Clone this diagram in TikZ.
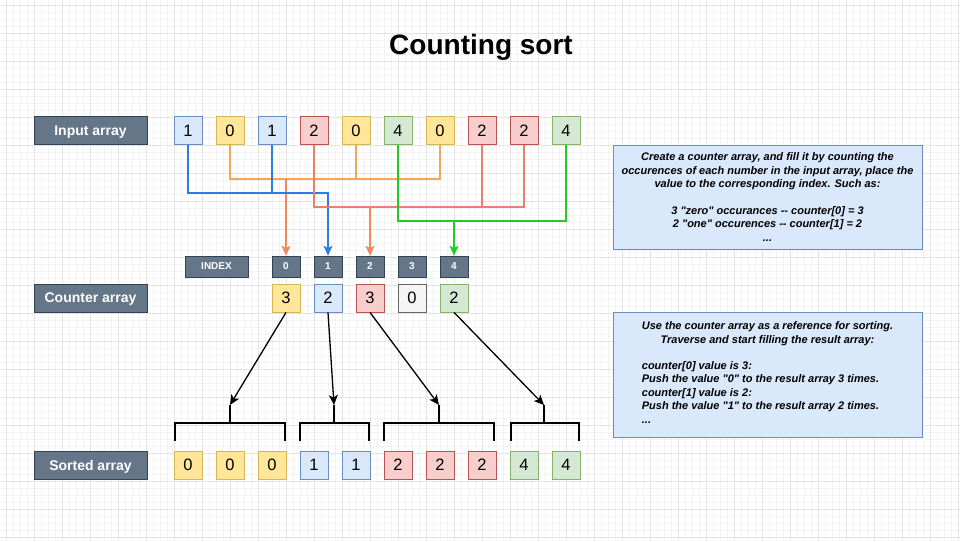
\documentclass[tikz,border=0pt]{standalone}
\usepackage{fontspec}
\setmainfont{Liberation Sans}[Ligatures=TeXOff]
\usetikzlibrary{arrows.meta}
\definecolor{BF}{HTML}{DAE8FC}\definecolor{BD}{HTML}{6C8EBF}
\definecolor{YF}{HTML}{FFE699}\definecolor{YD}{HTML}{D6B656}
\definecolor{RF}{HTML}{F8CECC}\definecolor{RD}{HTML}{B85450}
\definecolor{GF}{HTML}{D5E8D4}\definecolor{GD}{HTML}{82B366}
\definecolor{NF}{HTML}{F5F5F5}\definecolor{ND}{HTML}{666666}
\definecolor{slate}{HTML}{647687}\definecolor{slateD}{HTML}{314354}
\definecolor{gridminor}{HTML}{F3F3F3}\definecolor{gridmajor}{HTML}{E4E4E4}
\definecolor{eblue}{HTML}{2A7DE1}\definecolor{eorange}{HTML}{F2A65A}
\definecolor{eorangeB}{HTML}{F5875A}\definecolor{ered}{HTML}{E8806F}
\definecolor{egreen}{HTML}{22CC22}
\begin{document}
\begin{tikzpicture}[x=1pt,y=-1pt,
  cell/.style={minimum width=28, minimum height=28, inner sep=0, line width=0.8,
    font=\fontsize{16.5}{18}\selectfont},
  lbl/.style={fill=slate, draw=slateD, line width=0.6, text=white, minimum width=113,
    minimum height=28, inner sep=0, text depth=0pt, font=\bfseries\fontsize{14}{16}\selectfont},
  idxbox/.style={fill=slate, draw=slateD, line width=0.6, text=white, minimum width=28,
    minimum height=21, inner sep=0, font=\bfseries\fontsize{10}{12}\selectfont},
  conn/.style={line width=1.3},
  tipc/.style={-{Stealth[length=10pt,width=9pt,inset=2.5pt]}},
  blk/.style={line width=1.3, black},
  note/.style={fill=BF, draw=BD, line width=0.8, minimum width=309, inner sep=0,
    align=center, font=\bfseries\itshape\fontsize{11}{13.4}\selectfont}]
\useasboundingbox (0,0) rectangle (960,541);
\fill[white] (0,0) rectangle (960,541);
% grid
\foreach \i in {0,...,138} {\draw[gridminor, line width=0.5] ({-1+7*\i},0) -- ({-1+7*\i},541);}
\foreach \i in {0,...,78} {\draw[gridminor, line width=0.5] (0,{-2+7*\i}) -- (960,{-2+7*\i});}
\foreach \i in {0,...,34} {\draw[gridmajor, line width=0.7] ({6+28*\i},0) -- ({6+28*\i},541);}
\foreach \i in {0,...,19} {\draw[gridmajor, line width=0.7] (0,{5+28*\i}) -- (960,{5+28*\i});}

% title
\node (title) at (481,47) {\bfseries\fontsize{28}{32}\selectfont Counting sort};

% labels
\node[lbl] (inlbl) at (90.5,130.5) {Input array};
\node[lbl] (cntlbl) at (90.5,298) {Counter array};
\node[lbl] (outlbl) at (90.5,465) {Sorted array};

% input cells
\foreach \v/\c [count=\i from 0] in {1/B,0/Y,1/B,2/R,0/Y,4/G,0/Y,2/R,2/R,4/G}
  \node[cell, fill=\c F, draw=\c D] (in\i) at ({188+42*\i},130.5) {\v};

% index row
\node[idxbox, minimum width=63] (idxlbl) at (216.5,266.5) {INDEX};
\foreach \i in {0,...,4}
  \node[idxbox] (idx\i) at ({286+42*\i},266.5) {\i};

% counter cells
\foreach \v/\c [count=\i from 0] in {3/Y,2/B,3/R,0/N,2/G}
  \node[cell, fill=\c F, draw=\c D] (cnt\i) at ({286+42*\i},298) {\v};

% sorted cells
\foreach \v/\c [count=\i from 0] in {0/Y,0/Y,0/Y,1/B,1/B,2/R,2/R,2/R,4/G,4/G}
  \node[cell, fill=\c F, draw=\c D] (out\i) at ({188+42*\i},465) {\v};

% buses
\coordinate (busO) at (0,179);
\coordinate (busB) at (0,193);
\coordinate (busR) at (0,207);
\coordinate (busG) at (0,221);

% orange (zeros)
\draw[conn, eorange] (in1.south) |- (in6.south |- busO) -- (in6.south);
\draw[conn, eorange] (in4.south) -- (in4.south |- busO);
\draw[conn, eorangeB, tipc] (idx0.north |- busO) -- (idx0.north);
% blue (ones)
\draw[conn, eblue] (in2.south) -- (in2.south |- busB);
\draw[conn, eblue, tipc] (in0.south) |- (idx1.north |- busB) -- (idx1.north);
% red (twos)
\draw[conn, ered] (in3.south) |- (in8.south |- busR) -- (in8.south);
\draw[conn, ered] (in7.south) -- (in7.south |- busR);
\draw[conn, eorangeB, tipc] (idx2.north |- busR) -- (idx2.north);
% green (fours)
\draw[conn, egreen] (in5.south) |- (in9.south |- busG) -- (in9.south);
\draw[conn, egreen, tipc] (idx4.north |- busG) -- (idx4.north);

% brackets
\draw[blk] (175,441) -- (175,423) -- (285,423) -- (285,441);
\draw[blk] (230,423) -- (230,405) coordinate (bk0);
\draw[blk] (300,441) -- (300,423) -- (369,423) -- (369,441);
\draw[blk] (334,423) -- (334,405) coordinate (bk1);
\draw[blk] (384,441) -- (384,423) -- (494,423) -- (494,441);
\draw[blk] (439,423) -- (439,405) coordinate (bk2);
\draw[blk] (511,441) -- (511,423) -- (579,423) -- (579,441);
\draw[blk] (544,423) -- (544,405) coordinate (bk3);

% arrows from counters
\draw[blk, tipc] (cnt0.south) -- (bk0);
\draw[blk, tipc] (cnt1.south) -- (bk1);
\draw[blk, tipc] (cnt2.south) -- (bk2);
\draw[blk, tipc] (cnt4.south) -- (bk3);

% notes
\node[note, minimum height=104] (note1) at (767.5,197) {Create a counter array, and fill it by counting the\\
occurences of each number in the input array, place the\\
value to the corresponding index. Such as:\\[13.4pt]
3 "zero" occurances -\kern0pt- counter[0] = 3\\
2 "one" occurences -\kern0pt- counter[1] = 2\\
...};
\node[note, minimum height=125] (note2) at (767.5,374.5) {Use the counter array as a reference for sorting.\\
Traverse and start filling the result array:\\[13.4pt]
\hspace*{-14pt}\begin{tabular}{@{}l@{}}counter[0] value is 3:\\
Push the value "0" to the result array 3 times.\\
counter[1] value is 2:\\
Push the value "1" to the result array 2 times.\\
...\end{tabular}};
\end{tikzpicture}
\end{document}
